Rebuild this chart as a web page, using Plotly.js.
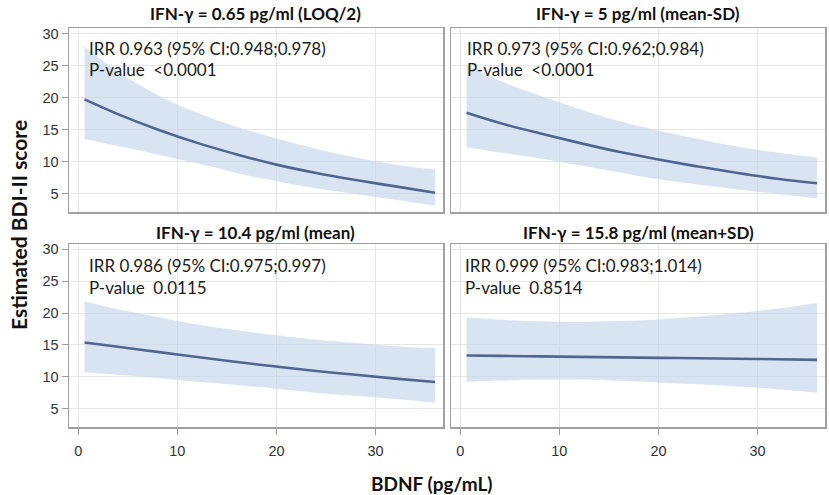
<!DOCTYPE html>
<html>
<head>
<meta charset="utf-8">
<script src="https://cdn.plot.ly/plotly-3.0.1.min.js"></script>
<style>html,body{margin:0;padding:0;background:#fff}#chart{width:829px;height:495px}</style>
</head>
<body>
<div id="chart"></div>
<script>
// BDNF values (pg/mL) at which estimates are read
const bdnf = [0.64, 4, 8, 12, 16, 20, 24, 28, 32, 36];

// Panel titles and statistics
const panelTitles = [
  "IFN-γ = 0.65 pg/ml (LOQ/2)",
  "IFN-γ = 5 pg/ml (mean-SD)",
  "IFN-γ = 10.4 pg/ml (mean)",
  "IFN-γ = 15.8 pg/ml (mean+SD)"
];
const irrLabels = [
  "IRR 0.963 (95% CI:0.948;0.978)",
  "IRR 0.973 (95% CI:0.962;0.984)",
  "IRR 0.986 (95% CI:0.975;0.997)",
  "IRR 0.999 (95% CI:0.983;1.014)"
];
const pLabels = [
  "P-value  &lt;0.0001",
  "P-value  &lt;0.0001",
  "P-value  0.0115",
  "P-value  0.8514"
];

// Estimated BDI-II score (mean) and 95% CI per panel
const est1 = [19.7, 17.4, 15.0, 12.9, 11.1, 9.5, 8.2, 7.1, 6.1, 5.1];
const upp1 = [28.0, 24.0, 20.4, 17.6, 15.4, 13.6, 12.0, 10.6, 9.5, 8.75];
const low1 = [13.5, 12.4, 11.1, 9.7, 8.2, 6.9, 5.8, 4.9, 4.0, 3.1];

const est2 = [17.6, 16.0, 14.4, 12.9, 11.5, 10.3, 9.2, 8.2, 7.3, 6.6];
const upp2 = [25.1, 22.6, 20.3, 18.2, 16.3, 14.8, 13.5, 12.3, 11.4, 10.6];
const low2 = [12.2, 11.4, 10.5, 9.4, 8.3, 7.2, 6.4, 5.6, 4.9, 4.2];

const est3 = [15.37, 14.7, 13.9, 13.1, 12.3, 11.6, 10.9, 10.3, 9.7, 9.17];
const upp3 = [21.8, 20.6, 19.4, 18.2, 17.3, 16.5, 15.8, 15.3, 14.8, 14.5];
const low3 = [10.7, 10.3, 9.8, 9.2, 8.7, 8.1, 7.5, 7.0, 6.5, 5.9];

const est4 = [13.33, 13.27, 13.2, 13.12, 13.04, 12.96, 12.9, 12.83, 12.75, 12.65];
const upp4 = [19.3, 18.95, 18.7, 18.6, 18.75, 19.0, 19.45, 20.0, 20.7, 21.6];
const low4 = [9.2, 9.4, 9.55, 9.55, 9.35, 9.1, 8.8, 8.45, 8.05, 7.5];

const xTicks = [0, 10, 20, 30];
const yTicks = [5, 10, 15, 20, 25, 30];

const panels = [
  {est: est1, upp: upp1, low: low1, xa: 'x', ya: 'y'},
  {est: est2, upp: upp2, low: low2, xa: 'x2', ya: 'y2'},
  {est: est3, upp: upp3, low: low3, xa: 'x3', ya: 'y3'},
  {est: est4, upp: upp4, low: low4, xa: 'x4', ya: 'y4'}
];

const lineColor = '#4f6790';
const bandColor = 'rgba(196,214,236,0.65)';

const traces = [];
panels.forEach(p => {
  traces.push({x: bdnf, y: p.low, xaxis: p.xa, yaxis: p.ya, mode: 'lines',
    line: {width: 0, shape: 'spline', color: bandColor}, hoverinfo: 'skip', showlegend: false});
  traces.push({x: bdnf, y: p.upp, xaxis: p.xa, yaxis: p.ya, mode: 'lines', fill: 'tonexty',
    fillcolor: bandColor, line: {width: 0, shape: 'spline', color: bandColor}, hoverinfo: 'skip', showlegend: false});
  traces.push({x: bdnf, y: p.est, xaxis: p.xa, yaxis: p.ya, mode: 'lines',
    line: {width: 2.6, shape: 'spline', color: lineColor}, showlegend: false});
});

const W = 829, H = 495;
const colDom = [[69 / W, 443 / W], [451 / W, 825 / W]];
const rowDom = [[1 - 212 / H, 1 - 28 / H], [1 - 427 / H, 1 - 244 / H]];

const tickFont = {family: 'Liberation Sans, Arial, sans-serif', size: 14.5, color: '#333'};
const xRange = [-0.93, 36.8];
const yRange = [2.1, 30.85];

function xAxis(col, showLabels) {
  return {
    domain: colDom[col], range: xRange, tickvals: xTicks, showticklabels: showLabels,
    ticks: showLabels ? 'outside' : '', ticklen: 6, tickcolor: '#999', tickwidth: 1,
    ticklabelstandoff: 4,
    showgrid: true, gridcolor: '#e6e6e6', gridwidth: 1, zeroline: false,
    showline: true, mirror: true, linecolor: '#a0a0a0', linewidth: 1.5,
    tickfont: tickFont, fixedrange: true
  };
}
function yAxis(row, showLabels) {
  return {
    domain: rowDom[row], range: yRange, tickvals: yTicks, showticklabels: showLabels,
    ticks: showLabels ? 'outside' : '', ticklen: 6, tickcolor: '#999', tickwidth: 1,
    showgrid: true, gridcolor: '#e6e6e6', gridwidth: 1, zeroline: false,
    showline: true, mirror: true, linecolor: '#a0a0a0', linewidth: 1.5,
    tickfont: tickFont, fixedrange: true
  };
}

const textFont = {family: 'Lato, Open Sans, sans-serif', size: 17, color: '#1a1a1a'};
const titleFont = {family: 'Lato, Open Sans, sans-serif', size: 17, color: '#111'};

const annotations = [];
const axNames = [['x', 'y'], ['x2', 'y2'], ['x3', 'y3'], ['x4', 'y4']];
const txtX = [0.048, 0.037, 0.048, 0.033];
const irrY = [0.891, 0.891, 0.885, 0.885];
const pY = [0.772, 0.772, 0.761, 0.761];
panelTitles.forEach((t, i) => {
  const col = i % 2, row = Math.floor(i / 2);
  annotations.push({text: '<b>' + t + '</b>', xref: 'paper', yref: 'paper',
    x: (colDom[col][0] + colDom[col][1]) / 2, y: row === 0 ? 1 - 14 / H : 1 - 233 / H,
    xanchor: 'center', yanchor: 'middle', showarrow: false, font: titleFont});
  annotations.push({text: irrLabels[i], xref: axNames[i][0] + ' domain', yref: axNames[i][1] + ' domain',
    x: txtX[i], y: irrY[i], xanchor: 'left', yanchor: 'middle', showarrow: false, font: textFont});
  annotations.push({text: pLabels[i], xref: axNames[i][0] + ' domain', yref: axNames[i][1] + ' domain',
    x: txtX[i], y: pY[i], xanchor: 'left', yanchor: 'middle', showarrow: false, font: textFont});
});
annotations.push({text: '<b>Estimated BDI-II score</b>', xref: 'paper', yref: 'paper',
  x: 18 / W, y: 1 - 225 / H, xanchor: 'center', yanchor: 'middle', textangle: -90, showarrow: false,
  font: {family: 'Lato, Open Sans, sans-serif', size: 21, color: '#111'}});
annotations.push({text: '<b>BDNF (pg/mL)</b>', xref: 'paper', yref: 'paper',
  x: 432 / W, y: 1 - 483 / H, xanchor: 'center', yanchor: 'middle', showarrow: false,
  font: {family: 'Lato, Open Sans, sans-serif', size: 19, color: '#111'}});

const layout = {
  width: W, height: H, margin: {l: 0, r: 0, t: 0, b: 0},
  paper_bgcolor: '#fff', plot_bgcolor: '#fff', showlegend: false,
  xaxis: xAxis(0, false), xaxis2: xAxis(1, false), xaxis3: xAxis(0, true), xaxis4: xAxis(1, true),
  yaxis: yAxis(0, true), yaxis2: yAxis(0, false), yaxis3: yAxis(1, true), yaxis4: yAxis(1, false),
  annotations: annotations
};
layout.xaxis.anchor = 'y'; layout.xaxis2.anchor = 'y2'; layout.xaxis3.anchor = 'y3'; layout.xaxis4.anchor = 'y4';
layout.yaxis.anchor = 'x'; layout.yaxis2.anchor = 'x2'; layout.yaxis3.anchor = 'x3'; layout.yaxis4.anchor = 'x4';

Plotly.newPlot('chart', traces, layout, {displayModeBar: false, staticPlot: true});
</script>
</body>
</html>
